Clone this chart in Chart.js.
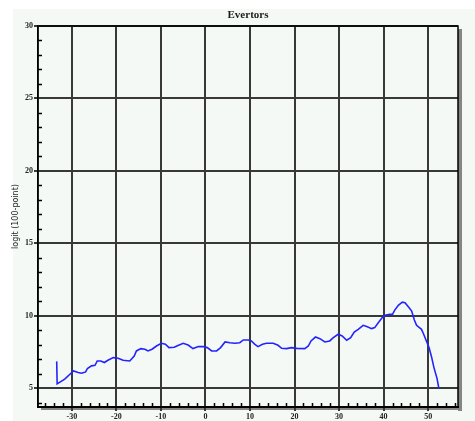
<!DOCTYPE html>
<html>
<head>
<meta charset="utf-8">
<script src="https://cdn.jsdelivr.net/npm/chart.js@4/dist/chart.umd.min.js"></script>
<style>
  html, body { margin: 0; padding: 0; background: #ffffff; }
  #wrap { width: 475px; height: 421px; }
</style>
</head>
<body>
<div id="wrap"><canvas id="chart" width="475" height="421"></canvas></div>
<script>
// Evertors: logit curve along the x range
const chartTitle = "Evertors";
const yAxisTitle = "logit (100-point)";

const xValues = [
  -33.4, -33.3, -31.6, -30.2, -29.6, -28.6, -27.8, -26.9, -26.5, -25.6,
  -24.8, -24.3, -23.5, -22.7, -21.9, -20.7, -19.6, -18.5, -17.0, -16.0,
  -15.5, -14.5, -13.6, -12.9, -12.0, -11.0, -9.9, -9.0, -8.2, -7.0,
  -6.3, -5.0, -3.9, -2.8, -1.6, -0.5, 0.4, 1.4, 2.5, 3.4,
  4.4, 5.5, 6.6, 7.7, 8.5, 9.6, 10.3, 11.1, 11.8, 12.8,
  13.7, 15.2, 16.3, 17.1, 18.2, 19.3, 20.5, 22.3, 23.1, 23.7,
  24.7, 25.7, 26.8, 27.9, 28.7, 29.8, 30.7, 31.7, 32.6, 33.4,
  34.3, 35.4, 36.2, 37.3, 38.0, 38.8, 39.7, 40.3, 41.4, 42.0,
  42.5, 43.3, 44.2, 44.8, 45.5, 46.3, 46.9, 47.4, 48.5, 48.9,
  49.6, 50.2, 50.8, 51.3, 52.0, 52.4
];
const yValues = [
  6.85, 5.30, 5.62, 6.03, 6.19, 6.08, 6.03, 6.12, 6.36, 6.54,
  6.58, 6.88, 6.88, 6.77, 6.93, 7.11, 7.07, 6.93, 6.88, 7.22,
  7.57, 7.73, 7.69, 7.57, 7.69, 7.91, 8.10, 8.03, 7.80, 7.82,
  7.93, 8.10, 7.98, 7.73, 7.87, 7.87, 7.80, 7.57, 7.57, 7.80,
  8.19, 8.14, 8.10, 8.14, 8.33, 8.33, 8.26, 8.03, 7.87, 8.03,
  8.10, 8.10, 7.96, 7.75, 7.73, 7.80, 7.75, 7.73, 7.91, 8.26,
  8.53, 8.42, 8.19, 8.26, 8.49, 8.72, 8.60, 8.31, 8.49, 8.88,
  9.06, 9.34, 9.25, 9.11, 9.18, 9.52, 9.87, 10.03, 10.10, 10.10,
  10.39, 10.72, 10.94, 10.90, 10.63, 10.32, 9.70, 9.34, 9.06, 8.79,
  8.26, 7.80, 7.11, 6.42, 5.66, 4.98
];

const xTickValues = [-30, -20, -10, 0, 10, 20, 30, 40, 50];
const yTickValues = [5, 10, 15, 20, 25, 30];
const xMinorStep = 2;
const yMinorStep = 1;

const points = xValues.map((x, i) => ({ x: x, y: yValues[i] }));

// Panel background, frame, drop shadow, minor ticks and title
const framePlugin = {
  id: 'frame',
  beforeDraw(chart) {
    const ctx = chart.ctx;
    ctx.save();
    ctx.fillStyle = '#ffffff';
    ctx.fillRect(0, 0, chart.width, chart.height);
    ctx.fillStyle = '#f4f9f5';
    ctx.fillRect(13, 9, chart.width - 13, chart.height - 9);
    const a = chart.chartArea;
    // drop shadow at right and bottom
    ctx.fillStyle = '#858585';
    ctx.fillRect(a.right, a.top + 3, 4, a.bottom - a.top + 1);
    ctx.fillRect(a.left + 3, a.bottom, a.right - a.left + 1, 3);
    ctx.restore();
  },
  afterDatasetsDraw(chart) {
    const ctx = chart.ctx;
    const a = chart.chartArea;
    const xs = chart.scales.x, ys = chart.scales.y;
    ctx.save();
    ctx.strokeStyle = '#000000';
    ctx.lineWidth = 1.5;
    ctx.strokeRect(a.left, a.top, a.right - a.left, a.bottom - a.top);
    ctx.lineWidth = 1.5;
    ctx.beginPath();
    for (let v = Math.ceil(ys.min); v <= ys.max; v += yMinorStep) {
      if (v % 5 === 0) continue;
      const y = Math.round(ys.getPixelForValue(v)) + 0.5;
      ctx.moveTo(a.left, y);
      ctx.lineTo(a.left + 4, y);
    }
    for (let v = Math.ceil(xs.min / xMinorStep) * xMinorStep; v <= xs.max; v += xMinorStep) {
      if (v % 10 === 0) continue;
      const x = Math.round(xs.getPixelForValue(v)) + 0.5;
      ctx.moveTo(x, a.bottom);
      ctx.lineTo(x, a.bottom - 4);
    }
    ctx.stroke();
    ctx.fillStyle = '#1a1a1a';
    ctx.font = 'bold 11px "Liberation Serif", serif';
    ctx.textAlign = 'center';
    ctx.textBaseline = 'middle';
    ctx.fillText(chartTitle, (a.left + a.right) / 2, 15);
    ctx.restore();
  }
};

new Chart(document.getElementById('chart'), {
  type: 'scatter',
  data: {
    datasets: [{
      data: points,
      showLine: true,
      borderColor: '#2323ff',
      borderWidth: 1.6,
      pointRadius: 0,
      tension: 0,
      fill: false
    }]
  },
  options: {
    responsive: false,
    animation: false,
    devicePixelRatio: 1,
    layout: { padding: { top: 26, right: 17, left: 0, bottom: 0 } },
    plugins: {
      legend: { display: false },
      tooltip: { enabled: false },
      title: { display: false }
    },
    scales: {
      x: {
        type: 'linear',
        min: -37.6,
        max: 56.7,
        afterBuildTicks: s => { s.ticks = xTickValues.map(v => ({ value: v })); },
        afterFit: s => { s.height = 14; },
        grid: { color: '#383838', lineWidth: 2, tickLength: 4, drawTicks: true },
        border: { display: true, color: '#000000', width: 2 },
        ticks: {
          color: '#222222',
          padding: 1,
          maxRotation: 0,
          font: { family: '"Liberation Serif", serif', size: 8, weight: 'bold' }
        }
      },
      y: {
        type: 'linear',
        min: 3.7,
        max: 30,
        afterBuildTicks: s => { s.ticks = yTickValues.map(v => ({ value: v })); },
        afterFit: s => { s.width = 38; },
        grid: { color: '#383838', lineWidth: 2, tickLength: 4, drawTicks: true },
        border: { display: true, color: '#000000', width: 1.5 },
        ticks: {
          color: '#222222',
          padding: 1,
          font: { family: '"Liberation Serif", serif', size: 8, weight: 'bold' }
        },
        title: {
          display: true,
          text: yAxisTitle,
          color: '#222222',
          padding: { top: 11, bottom: 0 },
          font: { family: '"DejaVu Sans", sans-serif', size: 8 }
        }
      }
    }
  },
  plugins: [framePlugin]
});
</script>
</body>
</html>
